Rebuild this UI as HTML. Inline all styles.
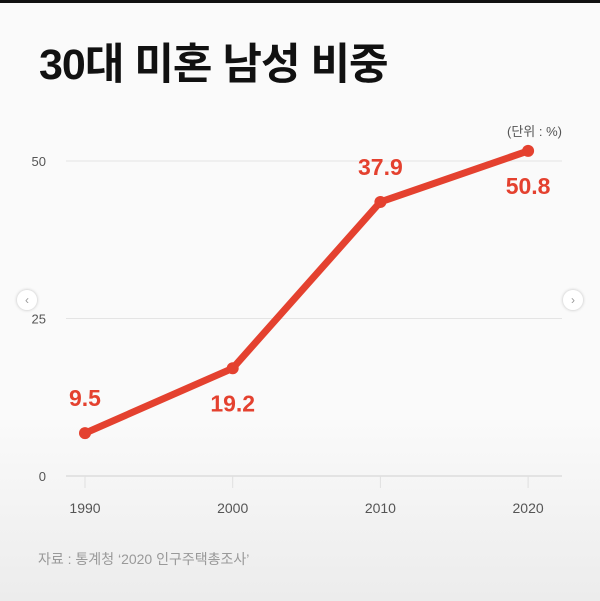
<!DOCTYPE html>
<html><head><meta charset="utf-8">
<style>
html,body{margin:0;padding:0}
body{width:600px;height:601px;overflow:hidden;background:linear-gradient(#fafafa 0%,#fafafa 70%,#ececec 100%);font-family:"Liberation Sans","Noto Sans CJK KR",sans-serif;position:relative}
#topbar{position:absolute;left:0;top:0;width:600px;height:3px;background:#111}
#title{position:absolute;left:39px;top:30px;font-size:43px;font-weight:bold;color:#111;letter-spacing:-1px;margin:0;white-space:nowrap}
.arrow{position:absolute;top:290px;width:20px;height:20px;border-radius:50%;background:rgba(255,255,255,0.85);box-shadow:0 0 3px rgba(0,0,0,0.25);color:#999;font-size:12px;line-height:20px;text-align:center}
svg{position:absolute;left:0;top:0}
</style></head><body>
<div id="topbar"></div>
<h1 id="title">30대 미혼 남성 비중</h1>
<div class="arrow" style="left:17px">‹</div>
<div class="arrow" style="left:563px">›</div>
<svg id="chart" width="600" height="601"></svg>
<script>
const categories=["1990","2000","2010","2020"];
const values=[6.8,17.1,43.5,51.6];
const valueLabels=["9.5","19.2","37.9","50.8"];
const yTicks=[0,25,50];
const labelSide=["above","below","above","below"];

const NS="http://www.w3.org/2000/svg";
const svg=document.getElementById('chart');
const x0=85,dx=147.7;
function xs(i){return x0+i*dx;}
function ys(v){return 476-v*6.3;}
function mk(t,a,txt){const e=document.createElementNS(NS,t);for(const k in a)e.setAttribute(k,a[k]);if(txt!==undefined)e.textContent=txt;svg.appendChild(e);return e;}
yTicks.forEach(t=>{
  const g=mk('line',{x1:66,x2:562,y1:ys(t),y2:ys(t),stroke:t===0?'#d0d0d0':'#e4e4e4','stroke-width':1});
  
  
  const l=mk('text',{x:46,y:ys(t)+5,'text-anchor':'end','font-size':13,fill:'#555','font-family':'Liberation Sans, sans-serif'},String(t));
  
  
});
categories.forEach((c,i)=>{
  const tk=mk('line',{x1:xs(i),x2:xs(i),y1:ys(0),y2:ys(0)+12,stroke:'#e0e0e0','stroke-width':1});
  
  
  const l=mk('text',{x:xs(i),y:513,'text-anchor':'middle','font-size':14,fill:'#555'},c);
  
  
});
const pts=values.map((v,i)=>xs(i)+','+ys(v)).join(' ');
const line=mk('polyline',{points:pts,fill:'none',stroke:'#e4412f','stroke-width':7,'stroke-linejoin':'round'});


values.forEach((v,i)=>{
  const c=mk('circle',{cx:xs(i),cy:ys(v),r:6,fill:'#e4412f'});
  
  
  const above=labelSide[i]==='above';
  const t=mk('text',{x:xs(i),y:above?ys(v)-27:ys(v)+43,'text-anchor':'middle','font-size':23,'font-weight':'bold',fill:'#e4412f'},valueLabels[i]);
  
  
});
const u=mk('text',{x:562,y:136,'text-anchor':'end','font-size':13,fill:'#555'},'(단위 : %)');


const s=mk('text',{x:38,y:564,'font-size':14,fill:'#999'},'자료 : 통계청 ‘2020 인구주택총조사’');


</script>
</body></html>
